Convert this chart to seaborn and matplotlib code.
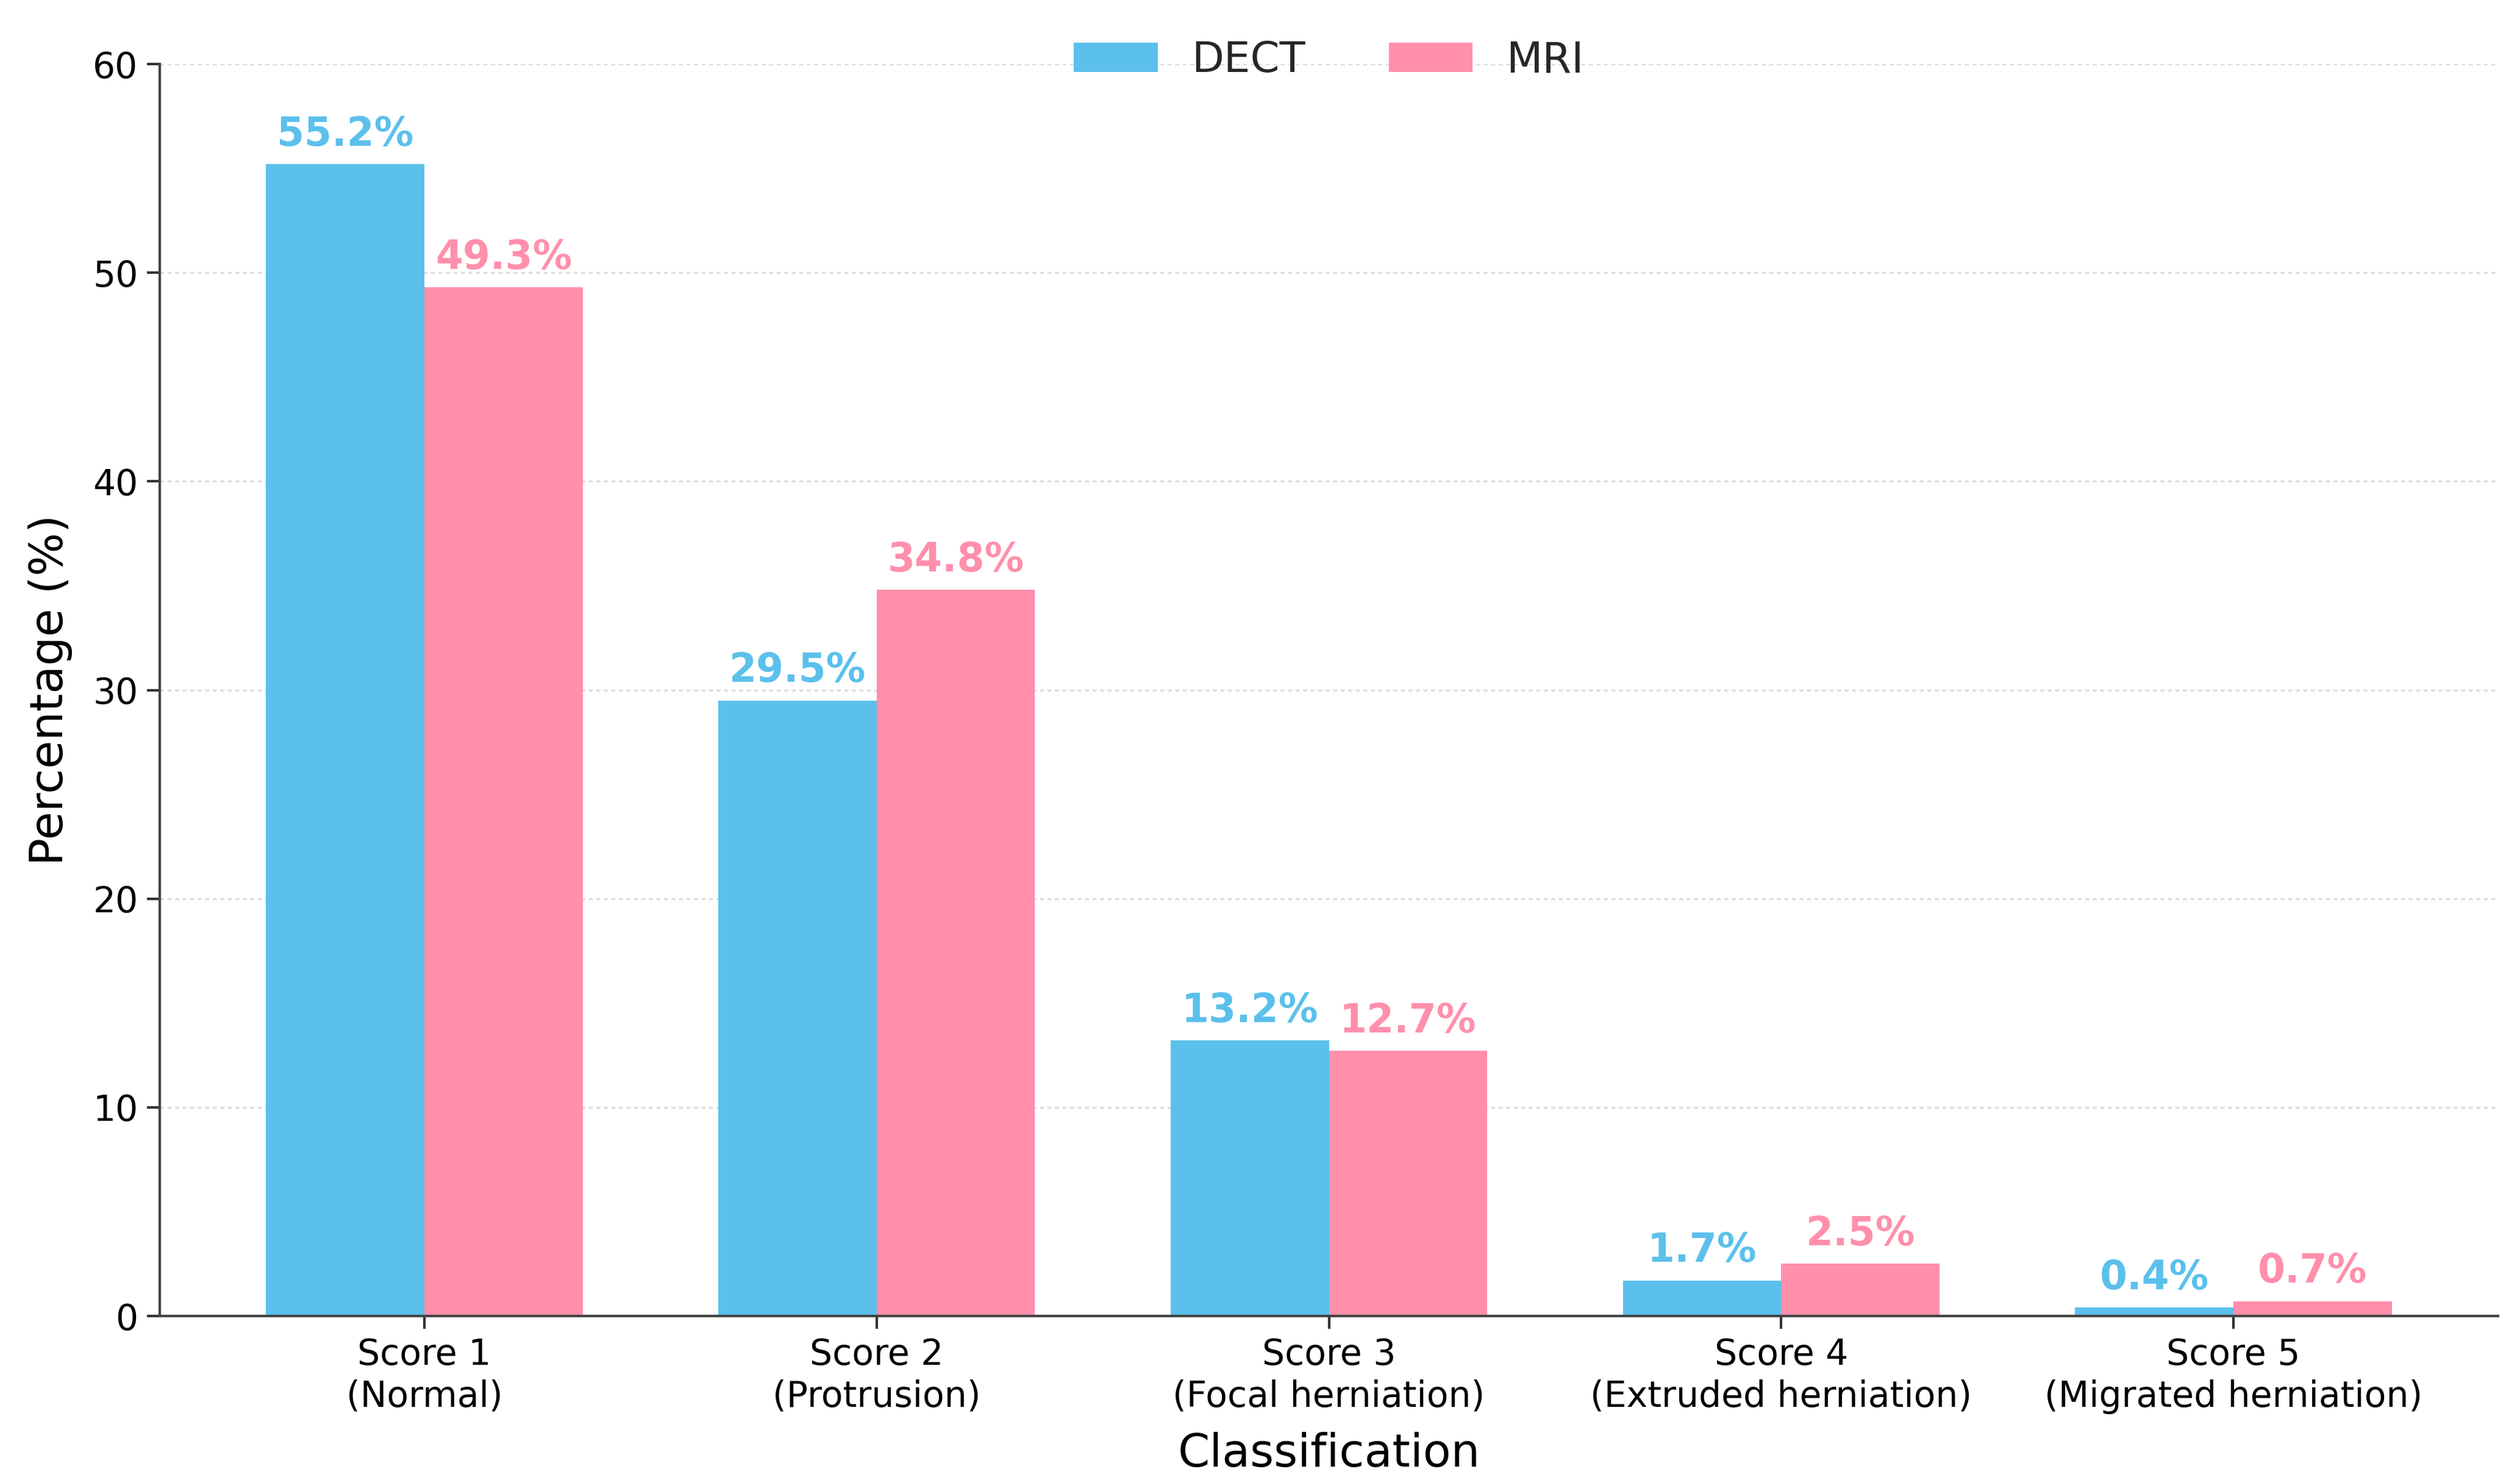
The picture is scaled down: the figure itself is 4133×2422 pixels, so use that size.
import pandas as pd
import numpy as np
import seaborn as sns
import matplotlib.pyplot as plt

# data
categories = ['Score 1\n(Normal)', 'Score 2\n(Protrusion)', 'Score 3\n(Focal herniation)',
              'Score 4\n(Extruded herniation)', 'Score 5\n(Migrated herniation)']
dect = [55.2, 29.5, 13.2, 1.7, 0.4]
mri = [49.3, 34.8, 12.7, 2.5, 0.7]
modalities = ['DECT', 'MRI']
colors = ['#5BC0EB', '#FF8FAB']

df = pd.DataFrame({
    'Classification': categories * 2,
    'Percentage': dect + mri,
    'Modality': ['DECT'] * len(categories) + ['MRI'] * len(categories),
})

sns.set_style('ticks')
plt.rcParams['font.family'] = ['DejaVu Sans']

fig = plt.figure(figsize=(4133 / 300, 2422 / 300), dpi=300)
ax = fig.add_axes([0.0634, 0.1090, 0.9913 - 0.0634, 0.9566 - 0.1090])

width = 0.7
sns.barplot(data=df, x='Classification', y='Percentage', hue='Modality',
            hue_order=modalities, palette=colors, width=width, saturation=1,
            errorbar=None, linewidth=0, edgecolor='none', ax=ax)

# value labels above each bar
for cont, vals, col in zip(ax.containers, [dect, mri], colors):
    ax.bar_label(cont, labels=[f'{v:.1f}%' for v in vals], padding=4,
                 color=col, fontweight='bold', fontsize=15.5)

n = len(categories)
pad = 0.05 * (n - 1 + width)
ax.set_xlim(-width / 2 - pad, n - 1 + width / 2 + pad)
ax.set_ylim(0, 60)
ax.set_yticks(np.arange(0, 61, 10))

ax.set_xlabel('Classification', fontsize=18, labelpad=7, color='black')
ax.set_ylabel('Percentage (%)', fontsize=18, labelpad=8, color='black')
ax.tick_params(axis='both', labelsize=14, length=5, width=1, colors='#333333',
               labelcolor='black')
for lbl in ax.get_xticklabels():
    lbl.set_linespacing(1.25)

ax.yaxis.grid(True, linestyle=(0, (2, 1.7)), linewidth=0.8, color='#dddddd')
ax.set_axisbelow(True)

sns.despine(ax=ax)
for side in ['left', 'bottom']:
    ax.spines[side].set_color('#444444')
    ax.spines[side].set_linewidth(1.0)

sns.move_legend(ax, 'center', bbox_to_anchor=(0.5, 1.003), ncol=2,
                frameon=False, title=None, fontsize=16.5)

plt.savefig('out.png', dpi=300)
